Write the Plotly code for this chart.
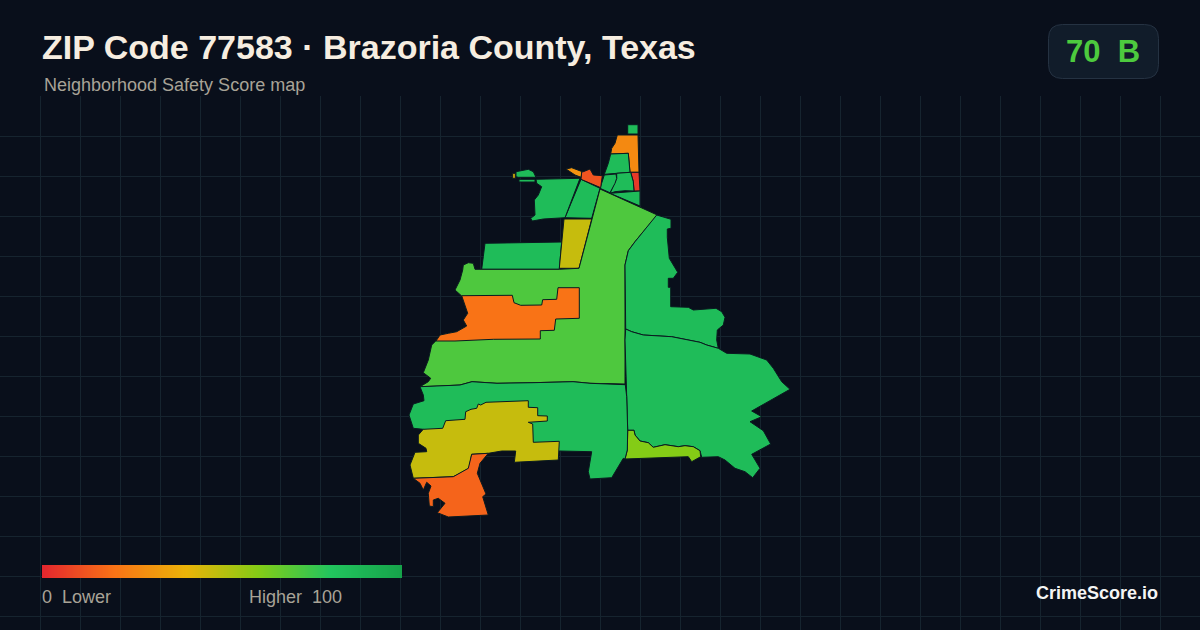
import plotly.graph_objects as go
from plotly.colors import sample_colorscale

TITLE = "ZIP Code 77583 · Brazoria County, Texas"
SUBTITLE = "Neighborhood Safety Score map"
BADGE_SCORE = 70
BADGE_GRADE = "B"
BRAND = "CrimeScore.io"
LEGEND_LOW = "0\u00a0\u00a0Lower"
LEGEND_HIGH = "Higher\u00a0\u00a0100"

scale_stops = [0.0, 0.2, 0.4, 0.6, 0.8, 1.0]
scale_colors = ["#e3262e", "#f97316", "#eab308", "#84cc16", "#22c55e", "#16a34a"]
legend_values = list(range(0, 101))

# Map tracts in map units
tip_x = [627.7, 638, 638, 627.7]
tip_y = [124.7, 124.7, 134, 134]
tip_score = 85

north_orange_x = [617.3, 638, 639, 630, 628.3, 610.7, 611.7, 615]
north_orange_y = [135, 135, 172.3, 172.3, 153.3, 154, 148.3, 143.3]
north_orange_score = 27

north_green_x = [610.7, 628.3, 630, 616.7, 604.3, 608.3]
north_green_y = [154, 153.3, 172.3, 173.3, 174.3, 163.3]
north_green_score = 85

north_red_x = [630.7, 639, 640, 634, 633.3]
north_red_y = [172.3, 172.3, 191, 191, 181.7]
north_red_score = 5

mid_east_x = [616.7, 630.7, 633.3, 634, 625, 615, 610, 615, 616.7]
mid_east_y = [173.3, 172.3, 181.7, 191, 190.7, 191.7, 193.3, 183.3, 178.3]
mid_east_score = 85

mid_west_x = [604.3, 616, 616.7, 615, 610, 600]
mid_west_y = [175, 174, 178.3, 183.3, 192.7, 188.3]
mid_west_score = 85

strip_x = [610, 640, 640]
strip_y = [193.3, 191, 206]
strip_score = 85

wedge_x = [581, 600, 591.7, 565]
wedge_y = [179.3, 188.3, 218.3, 217.7]
wedge_score = 85

bay_x = [536, 580, 565, 543.3, 532.3, 530.7, 535, 534.3, 538.3, 541.7, 536.7]
bay_y = [179.3, 178.3, 217.7, 219, 221, 218.3, 215, 200, 195, 186.7, 183.3]
bay_score = 85

islet_x = [516, 528.3, 533.3, 536, 518.3, 516]
islet_y = [171.7, 169.3, 171.7, 177.3, 177.3, 176.7]
islet_score = 85

islet_strip_x = [519, 535, 535, 519]
islet_strip_y = [179.3, 179.3, 182, 182]
islet_strip_score = 85

speck_x = [512.7, 515.3, 515.3, 512.7]
speck_y = [173.3, 173.3, 178.3, 178.3]
speck_score = 42

amber_x = [566, 571.7, 582.3, 581, 575]
amber_y = [169, 167.7, 171.7, 177.3, 175]
amber_score = 30

ember_x = [581.7, 583.3, 590, 593.3, 602.3, 600.7, 581]
ember_y = [172, 171.7, 169, 175, 175.7, 187.7, 179.3]
ember_score = 12

band_x = [485, 540, 561.7, 559.3, 481.7, 483.3]
band_y = [243.3, 242, 242, 269.3, 269.3, 256.7]
band_score = 85

gold_x = [564, 591.7, 579, 559.3]
gold_y = [219, 219, 268.3, 268.3]
gold_score = 47

central_x = [600, 657.3, 635, 628.3, 625, 625, 590, 573, 533, 497, 472, 460, 440, 420,
             428.3, 430.7, 423.3, 428.3, 431.7, 436, 440, 448.3, 456.7, 466.7, 463.3,
             467.7, 461.7, 455, 460, 462.7, 463.3, 468.3, 473.3, 475, 481.7, 559.3, 579, 591.7]
central_y = [189, 215, 241.7, 250.7, 265, 384, 383.3, 381.7, 382.7, 383.3, 381.7, 385, 386, 386.7,
             381.7, 378.3, 372.7, 360, 345, 340.7, 335, 333.3, 331.7, 326, 320,
             313.3, 296, 290, 280, 270, 265, 262.7, 263.3, 269.3, 269.3, 269.3, 268.3, 219]
central_score = 71

orange_x = [461.7, 512.3, 514, 520.7, 541.7, 542.7, 556.7, 558, 579.3, 579.3, 555.7, 554.3, 540.3,
            540.3, 493.3, 455, 436, 440, 448.3, 456.7, 466.7, 463.3, 467.7]
orange_y = [295.7, 295.3, 302.7, 305.3, 305, 299.7, 299.3, 287.7, 287.7, 318.3, 319, 330.3, 330.7,
            339, 339.3, 341, 341, 335, 333.3, 331.7, 326, 320, 313.3]
orange_score = 20

northeast_x = [656.7, 671, 671, 667.3, 667.3, 669.3, 677.7, 673.3, 668.3, 668.3, 670.7, 670.7, 688.3,
               693.3, 716, 721.7, 725, 723.3, 717.3, 716.7, 718.3, 706.7, 700, 671.7, 643.3, 631.7,
               625.7, 625, 628.3, 635]
northeast_y = [215, 219.3, 228.3, 229, 237.3, 258.3, 272.3, 278.3, 278.3, 287.3, 287.3, 306.7, 307.3,
               310, 308.3, 311.7, 317.3, 325, 330, 340, 348.3, 345, 342.3, 336.7, 335, 331.7,
               329, 265, 250.7, 241.7]
northeast_score = 85

east_x = [625.7, 631.7, 643.3, 671.7, 700, 706.7, 718.3, 726.7, 750, 766.7, 773.3, 781.7, 790, 751.7,
          761.7, 750, 763.3, 770.7, 751.7, 760, 752.7, 745, 735, 725, 718.3, 701.7, 700, 693.3, 685,
          678.3, 665, 653.3, 648.3, 640, 635, 634, 627.7, 626.7, 625]
east_y = [329, 331.7, 335, 336.7, 342.3, 345, 348.3, 353.3, 354, 360, 368.3, 381.7, 389.3, 411,
          416.7, 421.7, 430.7, 444, 454.3, 468.3, 477.7, 471.7, 468.3, 460, 456.7, 457.3, 450.7, 446.7, 445.7,
          446.7, 444.7, 447.3, 442.7, 441, 435, 430.3, 430.3, 386.7, 340]
east_score = 85

lime_x = [627.7, 634, 635, 640, 648.3, 653.3, 665, 678.3, 685, 693.3, 700, 700.7, 691.7, 688.3, 625, 627.3]
lime_y = [430.3, 430.3, 435, 441, 442.7, 447.3, 444.7, 446.7, 445.7, 446.7, 450.7, 456.7, 461.7, 456.7, 459, 450]
lime_score = 60

south_x = [420, 440, 460, 472, 497, 533, 573, 590, 625.3, 626.7, 627.7, 627.3, 625, 623.3, 611.7, 590,
           588.3, 591.7, 559.3, 423.3, 413.3, 409, 413.3, 424, 423.3]
south_y = [386.7, 386, 385, 381.7, 383.3, 382.7, 381.7, 383.3, 384.7, 396.7, 430, 450, 459, 458.3, 477.7, 479,
           471.7, 451.7, 451, 429.3, 428.3, 415, 404, 400.7, 395]
south_score = 85

olive_x = [442.7, 445.7, 465, 465.7, 471, 476.7, 478.3, 480.7, 486, 528.3, 528.3, 537.7, 537.7, 547.3,
           547.3, 528.3, 532.7, 533.3, 559.3, 558.3, 514.3, 515.7, 501.7, 488.3, 471.7, 469, 456.7, 453.3,
           413.3, 410, 415, 426.7, 426, 418.3, 418.3, 423.3]
olive_y = [428.3, 420.7, 419.3, 411.7, 409.3, 408.3, 404, 405, 402.3, 400.7, 407.3, 407.7, 415.7, 416,
           421, 422.3, 424, 442.3, 441.3, 460, 462.3, 451, 451, 453.3, 454.3, 468.3, 475, 476.7,
           478.3, 465, 452.3, 451.7, 448.3, 443.3, 435, 429.3]
olive_score = 47

coast_x = [413.3, 453.3, 468.3, 471.7, 488.3, 480, 477.3, 486, 482.7, 488.3, 448.3, 437.3, 445, 438.3,
           433.3, 433.3, 429.3, 428.3, 431, 426.7, 423.3, 420]
coast_y = [478.3, 476.7, 468.3, 454.3, 453.3, 463.3, 473.3, 494, 496.7, 515, 517, 512.7, 503.3, 498.3,
           500, 506.7, 506, 493.3, 486, 482.3, 490, 483.3]
coast_score = 16

zones = [
    (tip_x, tip_y, tip_score),
    (north_orange_x, north_orange_y, north_orange_score),
    (north_green_x, north_green_y, north_green_score),
    (north_red_x, north_red_y, north_red_score),
    (mid_east_x, mid_east_y, mid_east_score),
    (mid_west_x, mid_west_y, mid_west_score),
    (strip_x, strip_y, strip_score),
    (wedge_x, wedge_y, wedge_score),
    (bay_x, bay_y, bay_score),
    (islet_x, islet_y, islet_score),
    (islet_strip_x, islet_strip_y, islet_strip_score),
    (speck_x, speck_y, speck_score),
    (amber_x, amber_y, amber_score),
    (ember_x, ember_y, ember_score),
    (band_x, band_y, band_score),
    (gold_x, gold_y, gold_score),
    (central_x, central_y, central_score),
    (orange_x, orange_y, orange_score),
    (northeast_x, northeast_y, northeast_score),
    (east_x, east_y, east_score),
    (lime_x, lime_y, lime_score),
    (south_x, south_y, south_score),
    (olive_x, olive_y, olive_score),
    (coast_x, coast_y, coast_score),
]

W, H = 1200, 630
BG = "#090f1b"
GRID = "#16242f"
MUTED = "#a8a397"
CREAM = "#f6ede0"
BADGE_GREEN = "#4dca3e"
OUTLINE = "#0a1a20"

colorscale = [[s, c] for s, c in zip(scale_stops, scale_colors)]


def color_for(score):
    return sample_colorscale(colorscale, [score / 100], colortype="rgb")[0]


fig = go.Figure()

for xs, ys, score in zones:
    fig.add_trace(go.Scatter(
        x=xs + xs[:1], y=ys + ys[:1], mode="lines", fill="toself",
        fillcolor=color_for(score), line=dict(color=OUTLINE, width=1),
        hoverinfo="skip", showlegend=False, xaxis="x", yaxis="y",
    ))

fig.add_trace(go.Heatmap(
    x=legend_values, y=[0, 1], z=[legend_values, legend_values],
    zmin=0, zmax=100, colorscale=colorscale, showscale=False, zsmooth="best",
    hoverinfo="skip", xaxis="x2", yaxis="y2",
))


def px(x):
    return x / W


def py(y):
    return 1 - y / H


def label(text, x, y, size, color, bold=False, anchor="left"):
    fig.add_annotation(
        text=f"<b>{text}</b>" if bold else text, x=px(x), y=py(y), xref="paper", yref="paper",
        xanchor=anchor, yanchor="middle", showarrow=False,
        font=dict(family="Liberation Sans", size=size, color=color),
    )


label(TITLE, 39.5, 47, 34, CREAM, bold=True)
label(SUBTITLE, 41.5, 85, 18, MUTED)
label(LEGEND_LOW, 39.5, 597, 18, MUTED)
label(LEGEND_HIGH, 246.5, 597, 18, MUTED)
label(BRAND, 1159.5, 593, 18, "#f4f4f4", bold=True, anchor="right")
label(f"{BADGE_SCORE}\u00a0\u00a0{BADGE_GRADE}", 1102.5, 51, 31, BADGE_GREEN, bold=True, anchor="center")

# rounded badge
x0, x1, y0, y1, r = 1048.5, 1158.5, 24.5, 78.5, 14
badge_path = (
    f"M {px(x0 + r)} {py(y0)} L {px(x1 - r)} {py(y0)} Q {px(x1)} {py(y0)} {px(x1)} {py(y0 + r)} "
    f"L {px(x1)} {py(y1 - r)} Q {px(x1)} {py(y1)} {px(x1 - r)} {py(y1)} "
    f"L {px(x0 + r)} {py(y1)} Q {px(x0)} {py(y1)} {px(x0)} {py(y1 - r)} "
    f"L {px(x0)} {py(y0 + r)} Q {px(x0)} {py(y0)} {px(x0 + r)} {py(y0)} Z"
)
fig.add_shape(type="path", path=badge_path, xref="paper", yref="paper",
              fillcolor="#111c2a", line=dict(color="#253242", width=1), layer="below")

fig.update_layout(
    width=W, height=H, margin=dict(l=0, r=0, t=0, b=0),
    paper_bgcolor=BG, plot_bgcolor=BG,
    xaxis=dict(domain=[0, 1], range=[0, W], tick0=0, dtick=40, showgrid=True, gridcolor=GRID, gridwidth=1,
               zeroline=False, showticklabels=False, ticks="", fixedrange=True),
    yaxis=dict(domain=[0, 1 - 96 / H], range=[H, 96], tick0=96, dtick=40, showgrid=True, gridcolor=GRID, gridwidth=1,
               zeroline=False, showticklabels=False, ticks="", fixedrange=True),
    xaxis2=dict(domain=[px(42), px(402)], range=[0, 100], visible=False, anchor="y2", fixedrange=True),
    yaxis2=dict(domain=[py(578), py(565)], range=[0, 1], visible=False, anchor="x2", fixedrange=True),
)

fig.write_html(
    "out.html",
    config={"displayModeBar": False},
    post_script=(
        "document.body.style.margin='0';"
        "document.body.style.background='" + BG + "';"
        "document.body.style.overflow='hidden';"
    ),
)
